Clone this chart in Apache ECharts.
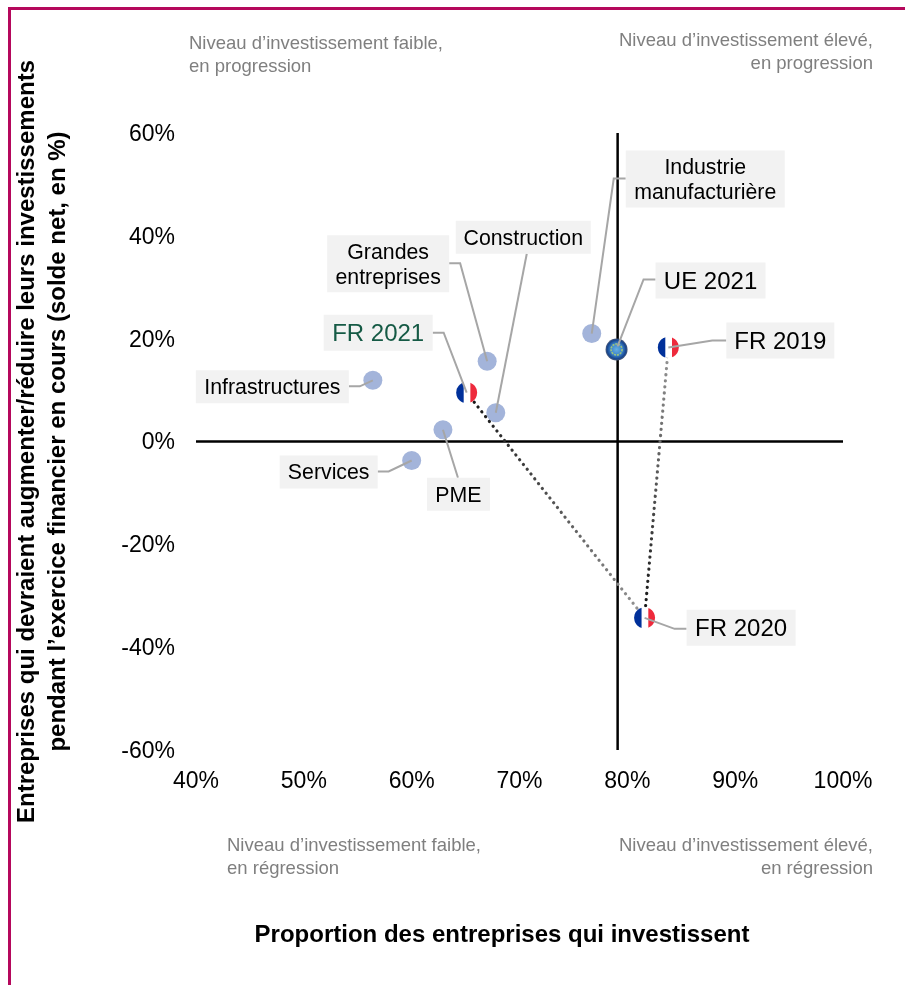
<!DOCTYPE html>
<html>
<head>
<meta charset="utf-8">
<style>html,body{margin:0;padding:0;background:#fff}#main{width:905px;height:985px}</style>
<script src="https://cdn.jsdelivr.net/npm/echarts@6/dist/echarts.min.js"></script>
</head>
<body>
<div id="main"></div>
<script>
// secteurs
var sectorNames = ['Infrastructures', 'Services', 'PME', 'Grandes\nentreprises', 'Construction', 'Industrie\nmanufacturière']
var sectorX = [56.4, 60.0, 62.9, 67.0, 67.8, 76.7]
var sectorY = [11.9, -3.7, 2.3, 15.6, 5.6, 21.0]

// France, dans l'ordre chronologique
var frNames = ['FR 2019', 'FR 2020', 'FR 2021']
var frX = [83.8, 81.6, 65.1]
var frY = [18.3, -34.3, 9.5]

var ueNames = ['UE 2021']
var ueX = [79.0]
var ueY = [17.9]

var xTicks = [40, 50, 60, 70, 80, 90, 100]
var yTicks = [-60, -40, -20, 0, 20, 40, 60]
var crossX = 79.1
var crossY = 0

// etiquettes : boite et trait de rappel, en pixels par rapport au point
var labelLayout = {
  'Infrastructures': { box: [-177, -10, -24, 23], path: [[-24, 6], [-13, 6], [0, 0]] },
  'Services': { box: [-132, -5, -34, 28], path: [[-34, 11], [-23, 11], [0, 0]] },
  'PME': { box: [-16, 48, 47, 81], path: [[15, 48], [0, 0]] },
  'Grandes\nentreprises': { box: [-160, -126, -38, -69], path: [[-38, -98], [-27, -98], [0, 0]] },
  'Construction': { box: [-40, -192, 95, -159], path: [[31, -159], [0, 0]] },
  'Industrie\nmanufacturière': { box: [34, -183, 193, -126], path: [[34, -155], [22, -155], [0, 0]] },
  'UE 2021': { box: [39, -87, 149, -51], path: [[39, -70], [27, -70], [1, -3]] },
  'FR 2019': { box: [58, -25, 166, 11], path: [[58, -7], [44, -7], [0, 0]] },
  'FR 2020': { box: [42, -8, 151, 28], path: [[42, 11], [30, 11], [0, 0]] },
  'FR 2021': { box: [-143, -78, -34, -42], path: [[-34, -60], [-23, -60], [0, 0]] }
}

var FONT = '"Liberation Sans", Arial, sans-serif'

function zip(xs, ys) {
  return xs.map(function (x, i) { return [x, ys[i]] })
}

// segment de cercle, de dx0 a dx1 par rapport au centre
function circleSlice(cx, cy, r, dx0, dx1) {
  var pts = []
  var i, dx
  for (i = 0; i <= 16; i++) {
    dx = dx0 + (dx1 - dx0) * i / 16
    pts.push([cx + dx, cy - Math.sqrt(Math.max(0, r * r - dx * dx))])
  }
  for (i = 16; i >= 0; i--) {
    dx = dx0 + (dx1 - dx0) * i / 16
    pts.push([cx + dx, cy + Math.sqrt(Math.max(0, r * r - dx * dx))])
  }
  return pts
}

function renderFlag(params, api) {
  var p = api.coord([api.value(0), api.value(1)])
  var r = 10.5
  return {
    type: 'group',
    children: [
      { type: 'circle', shape: { cx: p[0], cy: p[1], r: r }, style: { fill: '#fff' } },
      { type: 'polygon', shape: { points: circleSlice(p[0], p[1], r, -r, -3) }, style: { fill: '#00309a' } },
      { type: 'polygon', shape: { points: circleSlice(p[0], p[1], r, 3.7, r) }, style: { fill: '#ee2a3c' } }
    ]
  }
}

function renderEU(params, api) {
  var p = api.coord([api.value(0), api.value(1)])
  return {
    type: 'group',
    children: [
      {
        type: 'circle',
        shape: { cx: p[0], cy: p[1], r: 11 },
        style: {
          fill: new echarts.graphic.RadialGradient(0.5, 0.5, 0.5, [
            { offset: 0, color: '#66b0e2' },
            { offset: 0.55, color: '#3a80c8' },
            { offset: 0.85, color: '#174690' },
            { offset: 1, color: '#4a5a78' }
          ])
        }
      },
      {
        type: 'circle',
        shape: { cx: p[0], cy: p[1], r: 5.5 },
        style: { fill: null, stroke: '#9cc47c', lineWidth: 1.6, lineDash: [2, 1] }
      }
    ]
  }
}

function renderLabel(params, api) {
  var name = allNames[params.dataIndex]
  var lay = labelLayout[name]
  var p = api.coord([api.value(0), api.value(1)])
  var b = lay.box
  var big = /\d$/.test(name)
  var pts = lay.path.map(function (d) { return [p[0] + d[0], p[1] + d[1]] })
  return {
    type: 'group',
    children: [
      { type: 'polyline', shape: { points: pts }, style: { fill: null, stroke: '#a6a6a6', lineWidth: 2 } },
      {
        type: 'rect',
        shape: { x: p[0] + b[0], y: p[1] + b[1], width: b[2] - b[0], height: b[3] - b[1] },
        style: { fill: '#f2f2f2' }
      },
      {
        type: 'text',
        x: p[0] + (b[0] + b[2]) / 2,
        y: p[1] + (b[1] + b[3]) / 2 + 1.5,
        style: {
          text: name,
          fill: name === 'FR 2021' ? '#155a45' : '#000',
          font: (big ? '24px ' : '21.3px ') + FONT,
          lineHeight: 25,
          align: 'center',
          verticalAlign: 'middle'
        }
      }
    ]
  }
}

var allNames = sectorNames.concat(frNames, ueNames)
var allX = sectorX.concat(frX, ueX)
var allY = sectorY.concat(frY, ueY)

function dottedSegment(from, to, y0, y2) {
  return {
    type: 'line',
    data: [[frX[from], frY[from]], [frX[to], frY[to]]],
    symbol: 'none',
    z: 3,
    silent: true,
    lineStyle: {
      width: 3.2,
      cap: 'round',
      type: [0.1, 6],
      color: new echarts.graphic.LinearGradient(0, y0, 0, y2, [
        { offset: 0, color: '#111' },
        { offset: 1, color: '#999' }
      ])
    }
  }
}

function noteText(x, y, align, text) {
  return {
    type: 'text',
    x: x,
    y: y,
    style: { text: text, fill: '#7f7f7f', font: '18.5px ' + FONT, lineHeight: 23, align: align, verticalAlign: 'top' }
  }
}

var myChart = echarts.init(document.getElementById('main'), null, { renderer: 'canvas' })
var option = {
  animation: false,
  backgroundColor: '#fff',
  textStyle: { fontFamily: FONT },
  grid: { left: 196, right: 62, top: 133, bottom: 235, outerBoundsMode: 'none', containLabel: false },
  xAxis: {
    type: 'value',
    min: xTicks[0],
    max: xTicks[xTicks.length - 1],
    interval: 10,
    name: 'Proportion des entreprises qui investissent',
    nameLocation: 'middle',
    nameGap: 173,
    nameMoveOverlap: false,
    nameTextStyle: { color: '#000', fontWeight: 'bold', fontSize: 24, fontFamily: FONT, padding: [0, 35, 0, 0] },
    axisLine: { show: false },
    axisTick: { show: false },
    splitLine: { show: false },
    axisLabel: { color: '#000', fontSize: 23, fontFamily: FONT, margin: 20, formatter: '{value}%' }
  },
  yAxis: {
    type: 'value',
    min: yTicks[0],
    max: yTicks[yTicks.length - 1],
    interval: 20,
    name: 'Entreprises qui devraient augmenter/réduire leurs investissements\npendant l’exercice financier en cours (solde net, en %)',
    nameLocation: 'middle',
    nameRotate: 90,
    nameGap: 122,
    nameMoveOverlap: false,
    nameTextStyle: { color: '#000', fontWeight: 'bold', fontSize: 24, lineHeight: 31, fontFamily: FONT },
    axisLine: { show: false },
    axisTick: { show: false },
    splitLine: { show: false },
    axisLabel: {
      margin: 21,
      formatter: '{t|{value}%}',
      rich: { t: { color: '#000', fontSize: 23, fontFamily: FONT, padding: [3, 0, 0, 0] } }
    }
  },
  graphic: [
    { type: 'line', shape: { x1: 9.5, y1: 8, x2: 9.5, y2: 985 }, style: { stroke: '#b5085c', lineWidth: 3 } },
    { type: 'line', shape: { x1: 8, y1: 8.5, x2: 905, y2: 8.5 }, style: { stroke: '#b5085c', lineWidth: 3 } },
    noteText(189, 32, 'left', 'Niveau d’investissement faible,\nen progression'),
    noteText(873, 29, 'right', 'Niveau d’investissement élevé,\nen progression'),
    noteText(227, 834, 'left', 'Niveau d’investissement faible,\nen régression'),
    noteText(873, 834, 'right', 'Niveau d’investissement élevé,\nen régression')
  ],
  series: [
    {
      type: 'line',
      data: [[xTicks[0], crossY], [xTicks[xTicks.length - 1], crossY]],
      symbol: 'none',
      z: 1,
      lineStyle: { color: '#000', width: 2.5 }
    },
    {
      type: 'line',
      data: [[crossX, yTicks[0]], [crossX, yTicks[yTicks.length - 1]]],
      symbol: 'none',
      z: 1,
      lineStyle: { color: '#000', width: 2.5 }
    },
    {
      type: 'scatter',
      data: zip(sectorX, sectorY),
      symbolSize: 19,
      z: 2,
      itemStyle: { color: '#a3b4da', opacity: 1 }
    },
    dottedSegment(2, 1, 0, 1),
    dottedSegment(1, 0, 1, 0),
    { type: 'custom', data: zip(frX, frY), renderItem: renderFlag, z: 4, clip: false },
    { type: 'custom', data: zip(ueX, ueY), renderItem: renderEU, z: 4, clip: false },
    { type: 'custom', data: zip(allX, allY), renderItem: renderLabel, z: 5, clip: false }
  ]
}
myChart.setOption(option)
</script>
</body>
</html>
